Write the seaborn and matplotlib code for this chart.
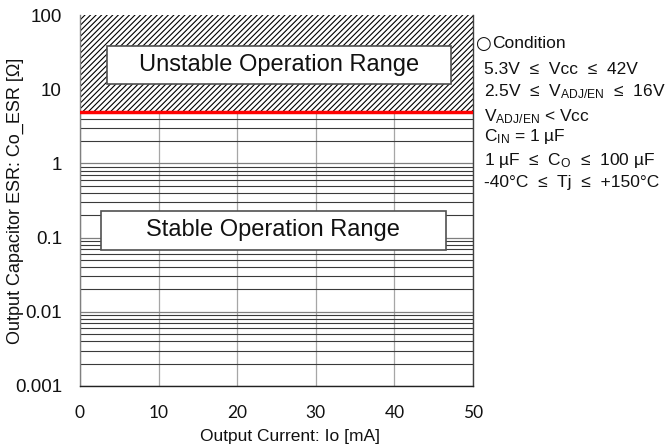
import numpy as np
import pandas as pd
import seaborn as sns
from matplotlib import pyplot as plt
from matplotlib.patches import Rectangle

# data
io_ma = [0, 50]            # output current range [mA]
esr_limit = [5, 5]         # stability boundary ESR [ohm]
esr_top = [100, 100]
x_ticks = [0, 10, 20, 30, 40, 50]
y_ticks = [0.001, 0.01, 0.1, 1, 10, 100]
y_ticklabels = ["0.001", "0.01", "0.1", "1", "10", "100"]
conditions = [
    "5.3V  ≤  Vcc  ≤  42V",
    "2.5V  ≤  V$_{\\mathrm{ADJ/EN}}$  ≤  16V",
    "V$_{\\mathrm{ADJ/EN}}$ < Vcc",
    "C$_{\\mathrm{IN}}$ = 1 µF",
    "1 µF  ≤  C$_{\\mathrm{O}}$  ≤  100 µF",
    "-40°C  ≤  Tj  ≤  +150°C",
]

sns.set_theme(style="white")
plt.rcParams["font.family"] = ["Liberation Sans", "DejaVu Sans"]
plt.rcParams["mathtext.fontset"] = "custom"
plt.rcParams["mathtext.rm"] = "Liberation Sans"
plt.rcParams["mathtext.it"] = "Liberation Sans:italic"
plt.rcParams["mathtext.bf"] = "Liberation Sans:bold"
plt.rcParams["hatch.linewidth"] = 0.8

df = pd.DataFrame({"io": io_ma, "esr": esr_limit})

fig = plt.figure(figsize=(6.66, 4.48), dpi=100)
ax = fig.add_axes([0.1201, 0.1384, 0.5901, 0.8281])
ax.set_yscale("log")
ax.set_xlim(0, 50)
ax.set_ylim(0.001, 100)

# grid
ax.set_xticks(x_ticks)
ax.set_yticks(y_ticks)
ax.set_yticklabels(y_ticklabels)
ax.yaxis.set_minor_locator(plt.matplotlib.ticker.LogLocator(base=10, subs=np.arange(2, 10)))
ax.yaxis.set_minor_formatter(plt.NullFormatter())
ax.grid(True, which="major", axis="x", color="#a6a6a6", lw=0.9)
ax.grid(True, which="major", axis="y", color="#7f7f7f", lw=0.9)
ax.grid(True, which="minor", axis="y", color="#3a3a3a", lw=0.8)
ax.set_axisbelow(True)

# unstable region
ax.fill_between(io_ma, esr_limit, esr_top, facecolor="white", edgecolor="black",
                hatch="//////", linewidth=0, zorder=2)
sns.lineplot(data=df, x="io", y="esr", color="red", lw=2.5, ax=ax, zorder=3)

# label boxes
ax.add_patch(Rectangle((3.4, 11.7), 43.8, 38.2 - 11.7, facecolor="white",
                       edgecolor="#505050", lw=1.2, zorder=4))
ax.text(25.3, 21.1, "Unstable Operation Range", ha="center", va="center",
        fontsize=17, color="#111111", zorder=5)
ax.add_patch(Rectangle((2.7, 0.068), 43.9, 0.229 - 0.068, facecolor="white",
                       edgecolor="#505050", lw=1.2, zorder=4))
ax.text(24.6, 0.125, "Stable Operation Range", ha="center", va="center",
        fontsize=17, color="#111111", zorder=5)

ax.tick_params(axis="both", which="both", length=0)
ax.tick_params(axis="y", labelsize=13.5, pad=13, colors="#111111")
ax.tick_params(axis="x", labelsize=12.5, pad=14, colors="#111111")
for lab in ax.get_xticklabels():
    lab.set_family("Lato")

ax.set_xlabel("Output Current: Io [mA]", fontsize=12.5, color="#111111", labelpad=3)
ax.xaxis.set_label_coords(0.535, -0.115)
ax.set_ylabel("Output Capacitor ESR: Co_ESR [Ω]", fontsize=13, color="#111111")
ax.yaxis.set_label_coords(-0.143, 0.5)

ax.spines["top"].set_visible(False)
ax.spines["left"].set_color("#808080")
ax.spines["bottom"].set_color("#222222")
ax.spines["right"].set_color("#404040")
for s in ["left", "bottom", "right"]:
    ax.spines[s].set_linewidth(1.0)

# condition notes
fig.text(475 / 666, 1 - 44 / 448, "○", fontsize=13, va="center",
         family=["DejaVu Sans"], color="#111111")
fig.text(492 / 666, 1 - 44 / 448, "Condition", fontsize=12.5, va="center",
         color="#111111")
ys = [69, 92, 117, 137, 160, 183]
for y, txt in zip(ys, conditions):
    fig.text(484 / 666, 1 - y / 448, txt, fontsize=12.5, va="center", color="#111111")

fig.savefig("out.png", dpi=100)
